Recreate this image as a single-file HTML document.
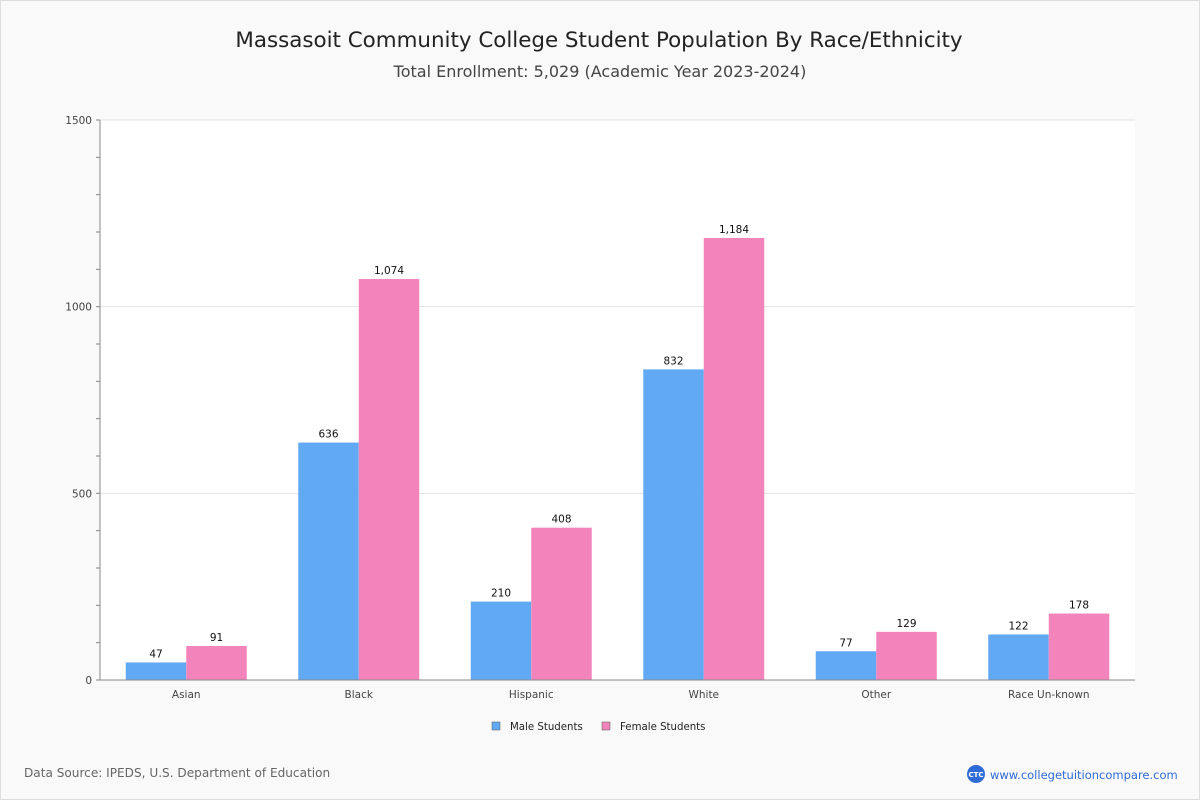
<!DOCTYPE html>
<html><head><meta charset="utf-8"><style>
body{margin:0;background:#fff;font-family:"DejaVu Sans","Liberation Sans",sans-serif}
#wrap{position:relative;width:1198px;height:798px;border:1px solid #ddd;background:#f9f9f9}
</style></head><body>
<div id="wrap">
<svg id="chart" width="1198" height="798"></svg>
</div>
<script>
const categories=["Asian","Black","Hispanic","White","Other","Race Un-known"];
const maleValues=[47,636,210,832,77,122];
const femaleValues=[91,1074,408,1184,129,178];
const yTicks=[0,500,1000,1500];
const seriesNames=["Male Students","Female Students"];
const NS="http://www.w3.org/2000/svg";
const svg=document.getElementById('chart');
const X0=99,X1=1134,Y0=679,Y1=119,YMAX=1500;
const y=v=>Y0-(v/YMAX)*(Y0-Y1);
const bw=(X1-X0)/categories.length;
const cx=i=>X0+bw*(i+0.5);
function mk(tag,attrs,text){const e=document.createElementNS(NS,tag);for(const k in attrs)e.setAttribute(k,attrs[k]);if(text!==undefined)e.textContent=text;svg.appendChild(e);return e;}
let e;
e=mk('text',{x:598,y:46,'text-anchor':'middle','font-size':21.4,fill:'#222'},'Massasoit Community College Student Population By Race/Ethnicity');


e=mk('text',{x:599,y:76,'text-anchor':'middle','font-size':16,fill:'#444'},'Total Enrollment: 5,029 (Academic Year 2023-2024)');


e=mk('rect',{x:X0,y:Y1,width:X1-X0,height:Y0-Y1,fill:'#fff'});


for(let v=0;v<=YMAX;v+=100){
 e=mk('line',{x1:X0-4,x2:X0,y1:y(v),y2:y(v),stroke:'#888'});
 
 
}
yTicks.forEach(v=>{
 e=mk('line',{x1:X0,x2:X1,y1:y(v),y2:y(v),stroke:'#e3e3e3'});
 
 
 e=mk('text',{x:X0-8,y:y(v)+4,'text-anchor':'end','font-size':10.5,fill:'#444'},String(v));
 
 
});
const barW=60.5;
categories.forEach((c,i)=>{
 const m=maleValues[i],f=femaleValues[i];
 e=mk('rect',{x:cx(i)-barW,y:y(m),width:barW,height:Y0-y(m),fill:'#62a9f4'});
 
 
 e=mk('rect',{x:cx(i),y:y(f),width:barW,height:Y0-y(f),fill:'#f283bb'});
 
 
 e=mk('text',{x:cx(i)-barW/2,y:y(m)-5,'text-anchor':'middle','font-size':10.5,fill:'#111'},m.toLocaleString('en-US'));
 
 
 e=mk('text',{x:cx(i)+barW/2,y:y(f)-5,'text-anchor':'middle','font-size':10.5,fill:'#111'},f.toLocaleString('en-US'));
 
 
 e=mk('text',{x:cx(i),y:Y0+18,'text-anchor':'middle','font-size':10.5,fill:'#444'},c);
 
 
});
e=mk('line',{x1:X0,x2:X0,y1:Y1,y2:Y0,stroke:'#888'});


e=mk('line',{x1:X0,x2:X1,y1:Y0,y2:Y0,stroke:'#888'});


const lx=[491,601],cols=['#62a9f4','#f283bb'];
seriesNames.forEach((s,i)=>{
 e=mk('rect',{x:lx[i],y:721,width:8,height:8,fill:cols[i],stroke:'#555','stroke-width':0.5});
 
 
 e=mk('text',{x:lx[i]+18,y:729,'font-size':10.2,fill:'#222'},s);
 
 
});
e=mk('text',{x:23,y:776,'font-size':12.1,fill:'#666'},'Data Source: IPEDS, U.S. Department of Education');


e=mk('circle',{cx:975,cy:773,r:9,fill:'#2f6bd6'});


e=mk('text',{x:975,y:776,'text-anchor':'middle','font-size':7,fill:'#fff','font-weight':'bold'},'CTC');


e=mk('text',{x:989,y:778,'font-size':11.5,fill:'#2f6bd6'},'www.collegetuitioncompare.com');


</script>
</body></html>
